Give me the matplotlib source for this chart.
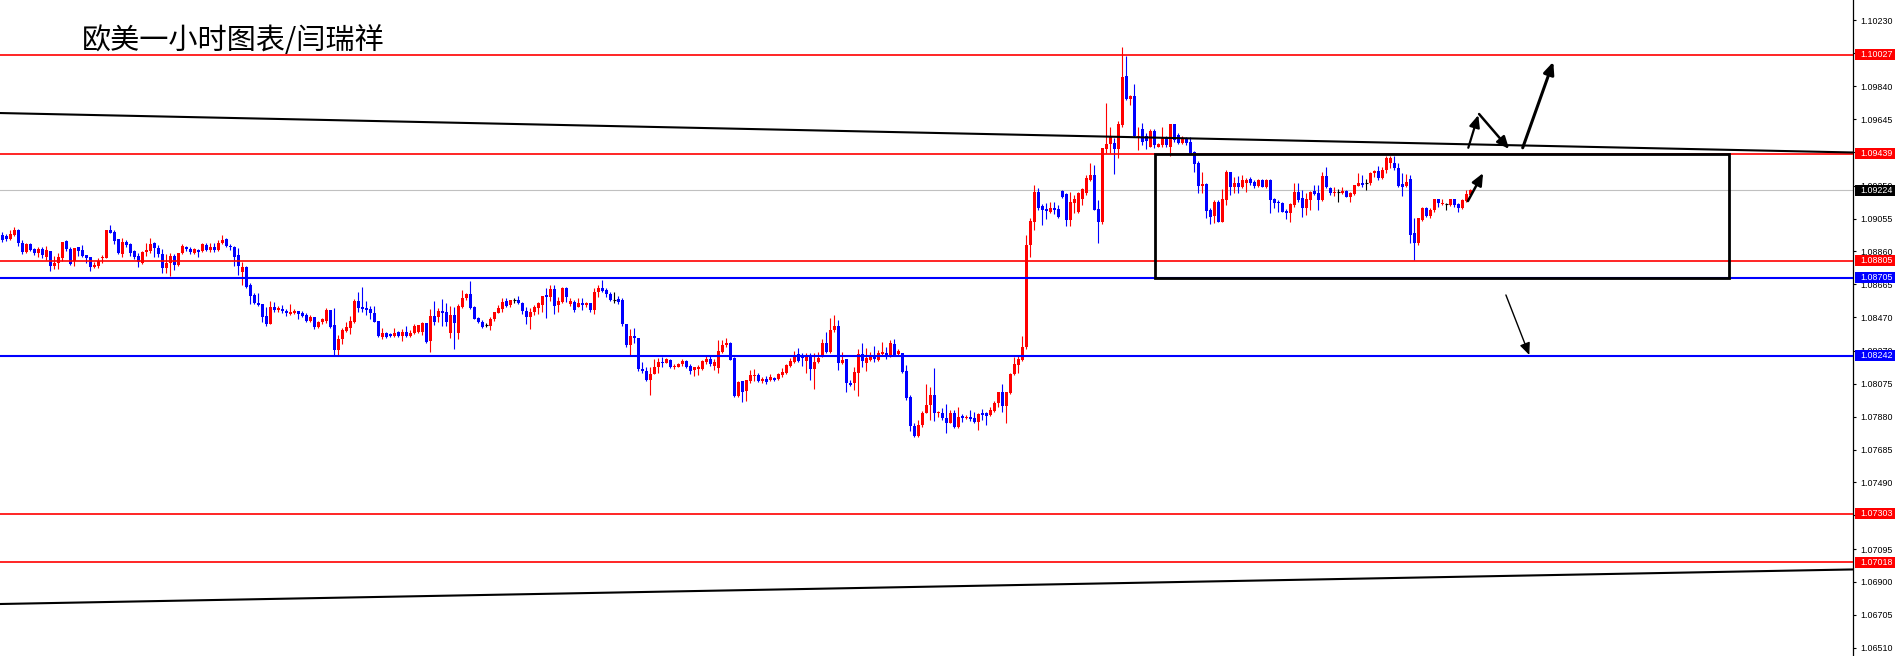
import numpy as np
import matplotlib
matplotlib.use("Agg")
import matplotlib.pyplot as plt
from matplotlib.patches import Rectangle
from matplotlib import transforms

plt.rcParams['font.family'] = ['Liberation Sans', 'DejaVu Sans']

title = "欧美一小时图表/闫瑞祥"

# hourly EURUSD candles, prices in points (1e-5)
opens_pts = [
    108957, 108951, 108934, 108957, 108987, 108908, 108858, 108904, 108872, 108849,
    108876, 108829, 108862, 108775, 108789, 108819, 108922, 108876, 108803, 108884,
    108868, 108837, 108825, 108770, 108775, 108819, 108823, 108987, 108975, 108932,
    108845, 108918, 108904, 108862, 108833, 108793, 108858, 108864, 108908, 108878,
    108845, 108764, 108789, 108833, 108779, 108849, 108888, 108876, 108852, 108868,
    108862, 108900, 108868, 108888, 108868, 108908, 108932, 108894, 108888, 108839,
    108740, 108770, 108661, 108602, 108556, 108548, 108477, 108429, 108532, 108513,
    108518, 108507, 108489, 108497, 108507, 108497, 108483, 108449, 108469, 108414,
    108439, 108449, 108513, 108423, 108275, 108338, 108390, 108408, 108443, 108566,
    108528, 108526, 108516, 108493, 108449, 108354, 108374, 108368, 108358, 108380,
    108360, 108380, 108358, 108378, 108384, 108380, 108433, 108330, 108477, 108469,
    108507, 108499, 108378, 108483, 108374, 108532, 108582, 108606, 108528, 108463,
    108443, 108423, 108418, 108457, 108497,
    108518, 108565, 108542, 108571, 108571, 108557, 108506, 108473, 108498, 108522,
    108542, 108601, 108591, 108635, 108542, 108561, 108641, 108548, 108561, 108528, 108555,
    108542,
    108552, 108512, 108621, 108645, 108631, 108607, 108571, 108577, 108571, 108429,
    108305, 108358, 108344, 108160, 108150, 108097, 108132, 108172, 108206, 108200, 108219,
    108172,
    108176, 108190, 108210, 108180, 108156, 108160, 108162, 108206, 108225, 108180,
    108166, 108263, 108305, 108319, 108229, 108002, 108091, 108034, 108091, 108122, 108130,
    108093,
    108101, 108097, 108111, 108103, 108130, 108140, 108180, 108206, 108249, 108239,
    108212, 108239, 108162, 108202, 108241, 108315, 108265, 108394, 108417, 108196, 108221,
    108077,
    108077, 108142, 108249, 108200, 108216, 108239, 108216, 108251, 108259, 108239,
    108309, 108251, 108255, 108150, 107998, 107825, 107765, 107830, 107903, 107949, 108008,
    107899,
    107903, 107870, 107844, 107903, 107820,
    107885, 107874, 107880, 107874, 107850, 107899, 107899, 107889, 107913, 107959,
    108024, 107943, 108018, 108131, 108186, 108215, 108295,
    108898, 109036, 109214, 109131, 109111, 109096, 109115, 109111, 109220, 109198,
    109046, 109149, 109096, 109174, 109204, 109283, 109313, 109109, 109032, 109467,
    109497, 109501, 109467, 109610, 109900, 109764, 109784, 109536, 109586, 109544,
    109481, 109576, 109481, 109491, 109531, 109481, 109614, 109550, 109501, 109531,
    109511, 109452, 109382, 109250, 109260, 109105, 109070, 109155, 109036, 109165,
    109329, 109244, 109268, 109244, 109268, 109287, 109270, 109248, 109283, 109244,
    109283, 109171, 109155, 109149, 109100, 109086, 109135, 109214, 109179, 109119,
    109165, 109218, 109208, 109165, 109309, 109234, 109204, 109210, 109208, 109218,
    109185, 109198, 109250, 109264, 109264, 109264, 109323, 109337, 109293, 109343,
    109382, 109386, 109353, 109258, 109248, 109289, 108967, 108912, 109046, 109115,
    109068, 109105, 109169, 109141, 109141, 109135, 109169, 109139, 109115, 109161, 109194,
]

highs_pts = [
    108973, 108961, 108987, 109003, 108991, 108928, 108912, 108912, 108882, 108888,
    108888, 108892, 108862, 108833, 108849, 108916, 108928, 108888, 108882, 108888,
    108898, 108837, 108829, 108799, 108819, 108839, 108987, 109017, 108987, 108932,
    108938, 108928, 108908, 108868, 108849, 108864, 108912, 108938, 108918, 108898,
    108872, 108845, 108849, 108845, 108852, 108902, 108894, 108888, 108878, 108874,
    108912, 108908, 108908, 108908, 108928, 108957, 108938, 108904, 108892, 108878,
    108799, 108774, 108671, 108616, 108612, 108548, 108532, 108566, 108562, 108536,
    108542, 108516, 108548, 108516, 108507, 108507, 108493, 108483, 108473, 108449,
    108463, 108522, 108513, 108526, 108364, 108408, 108443, 108477, 108578, 108621,
    108647, 108566, 108536, 108536, 108449, 108408, 108384, 108374, 108404, 108390,
    108398, 108418, 108394, 108427, 108423, 108439, 108437, 108518, 108566, 108522,
    108578, 108552, 108536, 108532, 108548, 108631, 108616, 108685, 108536, 108469,
    108453, 108433, 108469, 108503, 108542,
    108581, 108585, 108575, 108585, 108595, 108561, 108532, 108522, 108542, 108561,
    108597, 108641, 108664, 108664, 108591, 108651, 108651, 108581, 108571, 108585, 108581,
    108558,
    108555, 108645, 108664, 108690, 108641, 108617, 108621, 108595, 108585, 108429,
    108400, 108404, 108344, 108202, 108176, 108176, 108225, 108229, 108235, 108231, 108225,
    108190,
    108196, 108221, 108216, 108192, 108172, 108184, 108216, 108239, 108239, 108221,
    108334, 108334, 108344, 108323, 108235, 108091, 108091, 108097, 108156, 108160, 108140,
    108115,
    108121, 108136, 108117, 108140, 108166, 108190, 108229, 108269, 108285, 108259,
    108259, 108255, 108259, 108265, 108338, 108384, 108463, 108482, 108453, 108265, 108225,
    108095,
    108176, 108279, 108319, 108289, 108265, 108299, 108275, 108324, 108295, 108334,
    108338, 108279, 108259, 108186, 108008, 107841, 107860, 107915, 108071, 108057, 108166,
    107915,
    107929, 107955, 107919, 107919, 107939,
    107893, 107889, 107919, 107909, 107899, 107923, 107909, 107939, 107975, 108028,
    108073, 108024, 108141, 108235, 108239, 108358, 108957,
    109056, 109254, 109238, 109139, 109145, 109155, 109151, 109135, 109224, 109204,
    109210, 109194, 109214, 109234, 109313, 109386, 109372, 109165, 109471, 109738,
    109596, 109531, 109635, 110074, 110019, 109788, 109853, 109596, 109623, 109564,
    109584, 109584, 109501, 109600, 109544, 109614, 109614, 109564, 109544, 109540,
    109540, 109458, 109396, 109333, 109264, 109115, 109165, 109165, 109228, 109343,
    109333, 109303, 109307, 109313, 109293, 109303, 109283, 109289, 109289, 109289,
    109287, 109179, 109165, 109151, 109111, 109145, 109264, 109264, 109224, 109208,
    109220, 109254, 109254, 109329, 109359, 109244, 109244, 109228, 109244, 109224,
    109214, 109254, 109323, 109313, 109287, 109333, 109343, 109366, 109362, 109426,
    109426, 109426, 109382, 109323, 109319, 109313, 109056, 109056, 109125, 109125,
    109115, 109174, 109174, 109174, 109145, 109174, 109174, 109145, 109169, 109224, 109228,
]

lows_pts = [
    108914, 108924, 108926, 108951, 108894, 108845, 108852, 108862, 108839, 108829,
    108819, 108809, 108746, 108756, 108758, 108805, 108864, 108779, 108775, 108833,
    108825, 108793, 108744, 108760, 108764, 108789, 108823, 108967, 108904, 108845,
    108829, 108888, 108833, 108815, 108770, 108785, 108833, 108849, 108829, 108829,
    108734, 108734, 108716, 108750, 108775, 108845, 108864, 108843, 108845, 108829,
    108858, 108864, 108858, 108858, 108862, 108902, 108888, 108868, 108775, 108720,
    108661, 108643, 108548, 108548, 108536, 108439, 108418, 108429, 108503, 108503,
    108493, 108477, 108483, 108487, 108459, 108469, 108439, 108443, 108400, 108404,
    108429, 108433, 108408, 108246, 108246, 108309, 108384, 108370, 108437, 108503,
    108503, 108483, 108459, 108439, 108350, 108340, 108348, 108350, 108354, 108354,
    108330, 108354, 108350, 108370, 108378, 108364, 108319, 108266, 108423, 108443,
    108418, 108418, 108348, 108281, 108340, 108522, 108572, 108516, 108459, 108437,
    108408, 108414, 108394, 108449, 108493,
    108502, 108528, 108528, 108555, 108548, 108492, 108429, 108400, 108482, 108492,
    108502, 108467, 108567, 108492, 108502, 108555, 108561, 108536, 108502, 108528, 108512,
    108532,
    108502, 108488, 108591, 108621, 108591, 108565, 108552, 108548, 108417, 108295,
    108243, 108315, 108152, 108140, 108091, 108008, 108132, 108140, 108172, 108196, 108170,
    108160,
    108172, 108180, 108166, 108132, 108122, 108126, 108156, 108192, 108182, 108156,
    108142, 108259, 108291, 108216, 107998, 107994, 107969, 107973, 108081, 108093, 108085,
    108080,
    108073, 108091, 108091, 108097, 108117, 108136, 108176, 108196, 108202, 108180,
    108140, 108097, 108043, 108196, 108235, 108255, 108255, 108384, 108156, 108190, 108028,
    108060,
    108041, 108002, 108176, 108152, 108212, 108206, 108212, 108245, 108225, 108235,
    108239, 108245, 108142, 107979, 107797, 107761, 107761, 107820, 107899, 107860, 107856,
    107880,
    107860, 107785, 107840, 107812, 107810,
    107850, 107864, 107856, 107844, 107804, 107860, 107830, 107883, 107909, 107939,
    107909, 107844, 108014, 108127, 108141, 108209, 108279,
    108829, 108987, 109105, 109017, 109052, 109090, 109080, 109056, 109179, 109011,
    109011, 109090, 109090, 109135, 109194, 109279, 109105, 108908, 109021, 109442,
    109442, 109317, 109416, 109600, 109758, 109728, 109540, 109461, 109491, 109467,
    109477, 109471, 109477, 109481, 109481, 109426, 109511, 109497, 109497, 109491,
    109438, 109333, 109204, 109204, 109056, 109023, 109027, 109032, 109032, 109135,
    109194, 109204, 109208, 109234, 109210, 109254, 109234, 109244, 109244, 109234,
    109090, 109115, 109096, 109092, 109050, 109036, 109125, 109155, 109066, 109076,
    109105, 109194, 109105, 109161, 109234, 109194, 109190, 109155, 109200, 109181,
    109155, 109194, 109250, 109244, 109224, 109254, 109303, 109283, 109289, 109327,
    109353, 109343, 109244, 109188, 109244, 108908, 108809, 108898, 109040, 109066,
    109056, 109096, 109125, 109135, 109105, 109129, 109125, 109096, 109109, 109155, 109190,
]

closes_pts = [
    108928, 108932, 108963, 108987, 108908, 108858, 108904, 108868, 108852, 108872,
    108839, 108868, 108775, 108793, 108825, 108916, 108872, 108785, 108882, 108864,
    108833, 108823, 108770, 108779, 108803, 108825, 108987, 108971, 108924, 108852,
    108918, 108898, 108852, 108829, 108795, 108858, 108868, 108904, 108878, 108845,
    108764, 108793, 108833, 108779, 108849, 108894, 108874, 108854, 108872, 108858,
    108902, 108868, 108886, 108868, 108908, 108928, 108894, 108888, 108829, 108775,
    108770, 108651, 108598, 108556, 108540, 108473, 108427, 108532, 108513, 108526,
    108507, 108493, 108503, 108509, 108489, 108477, 108449, 108473, 108410, 108439,
    108457, 108513, 108414, 108275, 108338, 108394, 108414, 108447, 108566, 108526,
    108516, 108513, 108493, 108443, 108360, 108374, 108354, 108358, 108374, 108358,
    108380, 108358, 108378, 108418, 108423, 108433, 108325, 108477, 108443, 108507,
    108493, 108443, 108483, 108437, 108536, 108582, 108606, 108522, 108459, 108441,
    108414, 108423, 108459, 108499, 108522,
    108561, 108536, 108571, 108571, 108555, 108508, 108473, 108502, 108528, 108552,
    108597, 108591, 108635, 108538, 108567, 108641, 108591, 108565, 108512, 108552, 108542,
    108552,
    108512, 108621, 108645, 108627, 108605, 108575, 108571, 108561, 108429, 108305,
    108358, 108344, 108160, 108150, 108097, 108136, 108176, 108206, 108200, 108225, 108172,
    108180,
    108192, 108210, 108176, 108152, 108172, 108176, 108210, 108225, 108190, 108206,
    108269, 108305, 108319, 108219, 108002, 108087, 108028, 108097, 108130, 108130, 108093,
    108103,
    108087, 108117, 108097, 108132, 108146, 108186, 108210, 108245, 108210, 108231,
    108239, 108160, 108202, 108231, 108315, 108265, 108394, 108417, 108200, 108216, 108077,
    108068,
    108146, 108249, 108210, 108231, 108235, 108225, 108259, 108265, 108239, 108319,
    108245, 108269, 108146, 107992, 107825, 107765, 107830, 107903, 107949, 108008, 107899,
    107905,
    107870, 107844, 107903, 107820, 107880,
    107874, 107880, 107866, 107850, 107893, 107889, 107885, 107919, 107959, 108024,
    107943, 108024, 108133, 108190, 108221, 108295, 108898,
    109042, 109214, 109115, 109105, 109101, 109119, 109105, 109066, 109185, 109046,
    109155, 109174, 109208, 109228, 109293, 109313, 109105, 109032, 109471, 109497,
    109540, 109467, 109614, 109896, 109764, 109784, 109544, 109544, 109511, 109515,
    109576, 109491, 109497, 109531, 109491, 109614, 109521, 109501, 109525, 109501,
    109442, 109376, 109250, 109258, 109101, 109066, 109155, 109036, 109174, 109333,
    109244, 109268, 109244, 109283, 109283, 109268, 109248, 109283, 109244, 109283,
    109165, 109149, 109145, 109096, 109086, 109139, 109214, 109165, 109119, 109169,
    109214, 109200, 109165, 109309, 109244, 109204, 109214, 109210, 109218, 109185,
    109208, 109254, 109264, 109254, 109264, 109323, 109337, 109293, 109343, 109412,
    109412, 109353, 109248, 109240, 109273, 108957, 108912, 109056, 109115, 109070,
    109105, 109169, 109145, 109149, 109141, 109169, 109135, 109115, 109165, 109198, 109224,
]

red_levels = [1.10027, 1.09439, 1.08805, 1.07303, 1.07018]
blue_levels = [1.08705, 1.08242]
bid_price = 1.09224
tick_values = [1.10230, 1.10035, 1.09840, 1.09645, 1.09450, 1.09250, 1.09055,
               1.08860, 1.08665, 1.08470, 1.08270, 1.08075, 1.07880, 1.07685,
               1.07490, 1.07295, 1.07095, 1.06900, 1.06705, 1.06510]

# drawn objects: trend lines (bar index, price), range box, arrows
upper_trend = [(-0.575, 1.09681), (462.675, 1.09447)]
lower_trend = [(-0.575, 1.06769), (462.675, 1.06974)]
box_bars = (288.2, 431.7)
box_prices = (1.08705, 1.09439)
arrows = [
    ((366.4, 1.09159), (370.2, 1.09325), 1.8),
    ((366.5, 1.09475), (369.0, 1.09669), 1.6),
    ((369.2, 1.09675), (376.7, 1.09468), 1.8),
    ((380.1, 1.09475), (387.75, 1.09985), 2.2),
    ((375.9, 1.08602), (381.75, 1.08246), 1.0),
]

assert len(opens_pts) == len(highs_pts) == len(lows_pts) == len(closes_pts)

W, H = 1895, 656
fig = plt.figure(figsize=(W / 100, H / 100), dpi=100, facecolor='white')
ax = fig.add_axes([0, 0, 1853 / W, 1])
ax.set_facecolor('white')
ax.set_xlim(-0.575, 462.675)
ymin, ymax = 1.064606, 1.1035144
ax.set_ylim(ymin, ymax)
px = (ymax - ymin) / H

o = np.array(opens_pts) / 1e5
h = np.array(highs_pts) / 1e5
l = np.array(lows_pts) / 1e5
c = np.array(closes_pts) / 1e5
x = np.arange(len(o))
up = c > o
down = c < o
flat = ~(up | down)
cols = np.where(up, '#ff0000', np.where(down, '#0000ff', '#000000'))

ax.vlines(x, l, h, colors=cols, lw=0.8, zorder=2)
bb = np.minimum(o, c)
bh = np.maximum(np.abs(c - o), px)
nf = ~flat
ax.bar(x[nf], bh[nf], width=0.75, bottom=bb[nf], color=cols[nf], linewidth=0, zorder=3)
ax.hlines(o[flat], x[flat] - 0.4, x[flat] + 0.4, colors='black', lw=0.8, zorder=3)

# horizontal levels
ax.axhline(bid_price, color='#c0c0c0', lw=0.8, zorder=1)
for p in red_levels:
    ax.axhline(p, color='#ff0000', lw=1.2, zorder=4)
for p in blue_levels:
    ax.axhline(p, color='#0000ff', lw=1.5, zorder=4)

# trend lines
ax.axline(upper_trend[0], upper_trend[1], color='black', lw=1.5, zorder=5)
ax.axline(lower_trend[0], lower_trend[1], color='black', lw=1.5, zorder=5)

# range box
ax.add_patch(Rectangle((box_bars[0], box_prices[0]), box_bars[1] - box_bars[0],
                       box_prices[1] - box_prices[0], fill=False, ec='black',
                       lw=2.0, zorder=6))

for (x0, y0), (x1, y1), lw in arrows:
    ax.annotate('', xy=(x1, y1), xytext=(x0, y0),
                arrowprops=dict(arrowstyle='-|>,head_length=0.8,head_width=0.35',
                                color='black', lw=lw, shrinkA=0, shrinkB=0,
                                mutation_scale=9),
                zorder=8)

# axis
ax.yaxis.tick_right()
ax.set_yticks(tick_values)
ax.set_yticklabels([f"{v:.5f}" for v in tick_values])
ax.tick_params(axis='y', direction='out', length=2.5, width=0.8, pad=2.8,
               labelsize=6.4, colors='black')
ax.set_xticks([])
for s in ['top', 'left', 'bottom']:
    ax.spines[s].set_visible(False)
ax.spines['right'].set_linewidth(0.9)
ax.spines['right'].set_color('black')

# price labels
blend = transforms.blended_transform_factory(fig.transFigure, ax.transData)
box_h = 11 * px
labels = [(p, '#ff0000') for p in red_levels] + [(p, '#0000ff') for p in blue_levels] + [(bid_price, '#000000')]
for p, col in labels:
    fig.add_artist(Rectangle((1855 / W, p - box_h / 2), 40 / W, box_h, transform=blend,
                             facecolor=col, edgecolor='none', zorder=5))
    fig.text(1860 / W, p, f"{p:.5f}", transform=blend, color='white', fontsize=6.4,
             va='center', ha='left', zorder=6)

fig.text(82 / W, 1 - 41 / H, title, fontsize=21, family=['Noto Sans CJK SC', 'DejaVu Sans'],
         va='center', ha='left', color='black')

fig.savefig('out.png', dpi=100, facecolor='white')
